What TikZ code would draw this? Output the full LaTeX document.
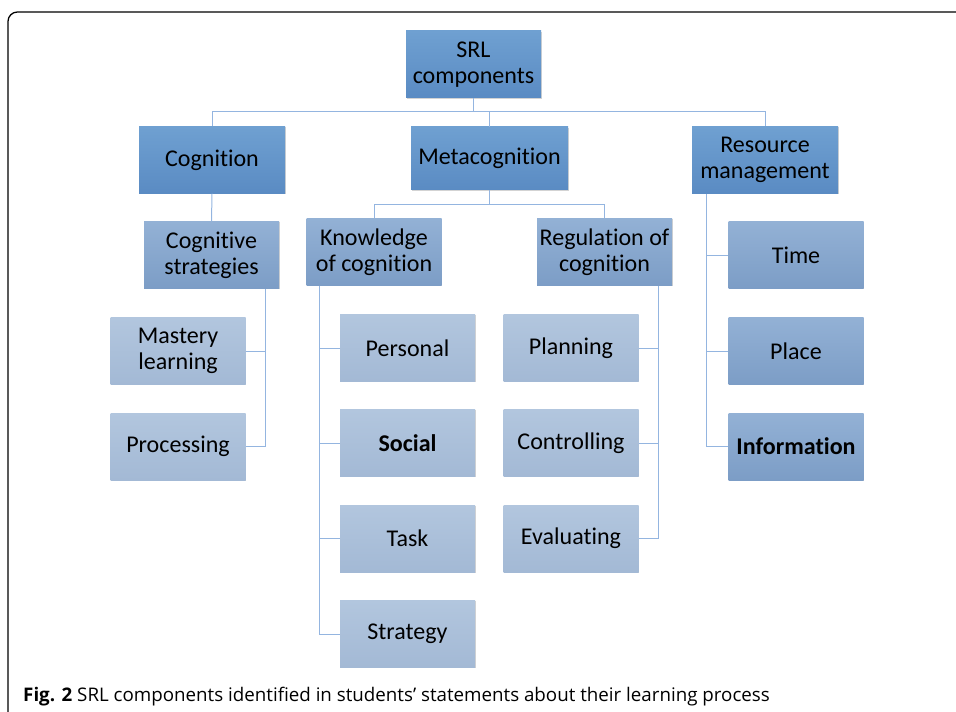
\documentclass[tikz,border=0pt]{standalone}
\usepackage{fontspec}
\setmainfont[Ligatures={NoCommon}]{Carlito}
\newfontfamily\capfont{Open Sans}
\usepackage{tikz}
\usetikzlibrary{positioning,shadows}

\definecolor{topA}{HTML}{6FA0D1}
\definecolor{botA}{HTML}{5A8BC3}
\definecolor{topB}{HTML}{93B1D5}
\definecolor{botB}{HTML}{7C9DC6}
\definecolor{topC}{HTML}{B2C6DE}
\definecolor{botC}{HTML}{A3B9D5}
\definecolor{linkblue}{HTML}{94B5E0}

\tikzset{
  box/.style={rectangle, minimum width=135*0.03cm, minimum height=67*0.03cm,
    align=center, font=\fontsize{20.5}{22.5}\selectfont, inner sep=1pt,
    drop shadow={shadow xshift=0.6pt, shadow yshift=-0.8pt, opacity=0.35}},
  topbox/.style={box, top color=topA, bottom color=botA},
  midbox/.style={box, top color=topB, bottom color=botB},
  leafbox/.style={box, top color=topC, bottom color=botC},
  link/.style={draw=linkblue, line width=0.85pt}
}

\begin{document}
\begin{tikzpicture}[x=0.03cm,y=-0.03cm]
\useasboundingbox (0,0) rectangle (956,712);

% frame
\draw[line width=1.1pt, rounded corners=8pt] (956,12) -- (8,12) -- (8,712);

% level 0 and 1
\node[topbox] (srl) at (473.5,64.5) {SRL\\components};
\node[topbox, minimum width=146*0.03cm] (cog) at (212,160) {Cognition};
\node[topbox, minimum width=157*0.03cm, minimum height=63*0.03cm] (meta) at (489.5,158.5) {Metacognition};
\node[topbox, minimum width=146*0.03cm] (res) at (765,160) {Resource\\management};

% level 2
\node[midbox] (cstrat) at (211.5,255) {Cognitive\\strategies};
\node[midbox] (know) at (374,252) {Knowledge\\of cognition};
\node[midbox] (reg) at (604.5,252) {Regulation of\\cognition};
\node[midbox] (time) at (796,255) {Time};
\node[midbox] (place) at (796,351) {Place};
\node[midbox] (info) at (796,446.5) {\textbf{Information}};

% leaves
\node[leafbox] (mast) at (178,351) {Mastery\\learning};
\node[leafbox] (proc) at (178,446.5) {Processing};
\node[leafbox] (pers) at (407.5,348) {Personal};
\node[leafbox] (soc) at (407.5,443) {\textbf{Social}};
\node[leafbox] (task) at (407.5,538.5) {Task};
\node[leafbox] (strat) at (407.5,634) {Strategy};
\node[leafbox] (plan) at (571,348) {Planning};
\node[leafbox] (ctrl) at (571,443) {Controlling};
\node[leafbox] (eval) at (571,538.5) {Evaluating};

% connectors
\coordinate (busA) at (0,112);
\coordinate (busB) at (0,204);
\draw[link] (srl.south) -- (srl.south |- busA);
\draw[link] (cog.north) -- (cog.north |- busA) -| (res.north);
\draw[link] (meta.north) -- (meta.north |- busA);
\draw[link] (cog.south) -- (cstrat.north);
\draw[link] (meta.south) -- (meta.south |- busB);
\draw[link] (know.north) -- (know.north |- busB) -| (reg.north);

\coordinate (cs) at ([xshift=-14*0.03cm]cstrat.south east);
\draw[link] (cs) |- (proc.east);
\draw[link] (mast.east) -- (mast.east -| cs);

\coordinate (kc) at ([xshift=13*0.03cm]know.south west);
\draw[link] (kc) |- (strat.west);
\foreach \n in {pers,soc,task}
  \draw[link] (\n.west) -- (\n.west -| kc);

\coordinate (rc) at ([xshift=-14*0.03cm]reg.south east);
\draw[link] (rc) |- (eval.east);
\foreach \n in {plan,ctrl}
  \draw[link] (\n.east) -- (\n.east -| rc);

\coordinate (rm) at ([xshift=15*0.03cm]res.south west);
\draw[link] (rm) |- (info.west);
\foreach \n in {time,place}
  \draw[link] (\n.west) -- (\n.west -| rm);

% caption
\node[anchor=west, inner sep=0pt, font=\capfont\fontsize{16}{18}\selectfont] (cap) at (23,697)
  {\textbf{Fig. 2} SRL components identified in students’ statements about their learning process};
\end{tikzpicture}
\end{document}
